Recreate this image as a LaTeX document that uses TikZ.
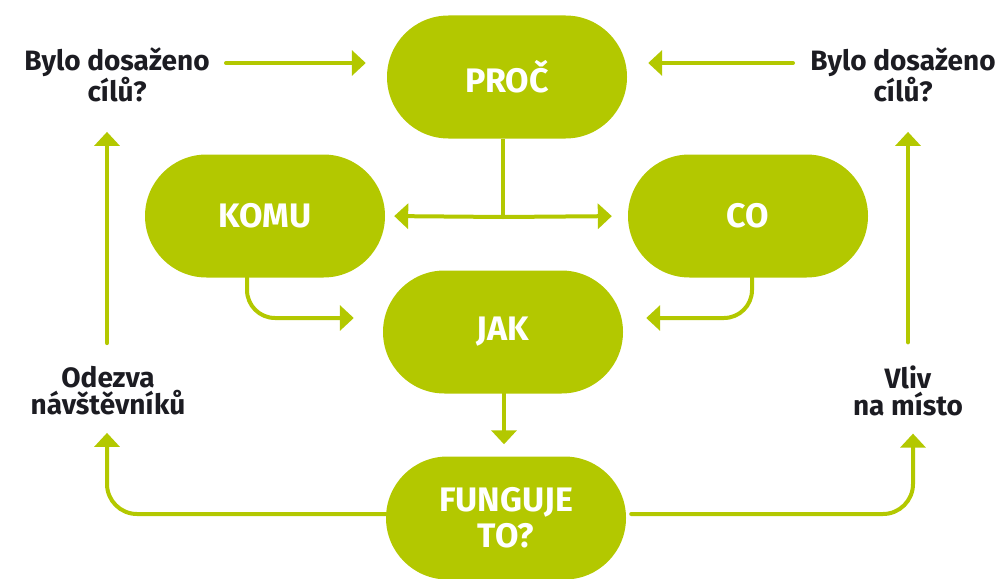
\documentclass[tikz,border=0pt]{standalone}
\usepackage{fontspec}
\setmainfont{Fira Sans}
\usetikzlibrary{arrows.meta,shapes.misc}
\definecolor{Lime}{HTML}{B3C800}
\definecolor{Ink}{HTML}{1C1C22}

\begin{document}
\begin{tikzpicture}[x=1pt, y=-1pt,
  box/.style={rounded rectangle, fill=Lime, text=white, minimum width=240pt, minimum height=123pt, inner sep=0pt, align=center, font=\fontsize{34}{36}\selectfont\bfseries},
  note/.style={text=Ink, align=center, font=\fontsize{28}{27}\selectfont\bfseries},
  link/.style={draw=Lime, line width=4pt, line cap=round, -{Triangle[length=14pt, width=25pt]}},
  line/.style={draw=Lime, line width=4pt}]

 \useasboundingbox (0,0) rectangle (998,578);

 %%%%%%%%%% Boxes %%%%%%%%%%
 \node[box] (proc) at (507,77) {PROČ};
 \node[box] (komu) at (265,216) {KOMU};
 \node[box] (co) at (748,216) {CO};
 \node[box] (jak) at (503,332) {JAK};
 \node[box] (fung) at (506,518) {FUNGUJE\\TO?};

 %%%%%%%%%% Texts %%%%%%%%%%
 \node[note] (botL) at (117,75) {Bylo dosaženo\\cílů?};
 \node[note] (botR) at (903,75) {Bylo dosaženo\\cílů?};
 \node[note] (odezva) at (108,391) {Odezva\\návštěvníků};
 \node[note] (vliv) at (908,391) {Vliv\\na místo};

 %%%%%%%%%% Points pour travailler %%%%%%%%%%
 \coordinate (aL) at (226,63);
 \coordinate (aR) at (793,63);
 \coordinate (split) at (503,217);

 % top arrows
 \draw[link, shorten >=21pt] (aL) -- (aL -| proc.west);
 \draw[link, shorten >=21pt] (aR) -- (aR -| proc.east);

 % side arrows
 \draw[link, shorten <=20pt, shorten >=26pt] ([xshift=-1pt]odezva.north) -- ([xshift=-1pt]odezva.north |- botL.south);
 \draw[link, shorten <=20pt, shorten >=26pt] (vliv.north) -- (vliv.north |- botR.south);

 % PROC to KOMU and CO
 \draw[line] (proc.south -| split) -- (split);
 \draw[link, shorten >=9pt] (split) -- (komu.east);
 \draw[link, shorten >=16pt] (split) -- (co.west);

 % KOMU and CO to JAK
 \draw[link, rounded corners=28pt, shorten >=29pt] ([xshift=-18pt]komu.south) |- ([yshift=14pt]jak.west);
 \draw[link, rounded corners=28pt, shorten >=23pt] ([xshift=4pt]co.south) |- ([yshift=14pt]jak.east);

 % JAK to FUNGUJE
 \draw[link, shorten >=12pt] ([xshift=1pt]jak.south) -- ([xshift=-2pt]fung.north);

 % FUNGUJE to both sides
 \draw[link, rounded corners=30pt, shorten >=14pt] ([yshift=4pt]fung.west) -| ([xshift=-1pt]odezva.south);
 \draw[link, rounded corners=30pt, shorten <=5pt, shorten >=14pt] ([yshift=4pt]fung.east) -| ([xshift=5pt]vliv.south);

\end{tikzpicture}
\end{document}
